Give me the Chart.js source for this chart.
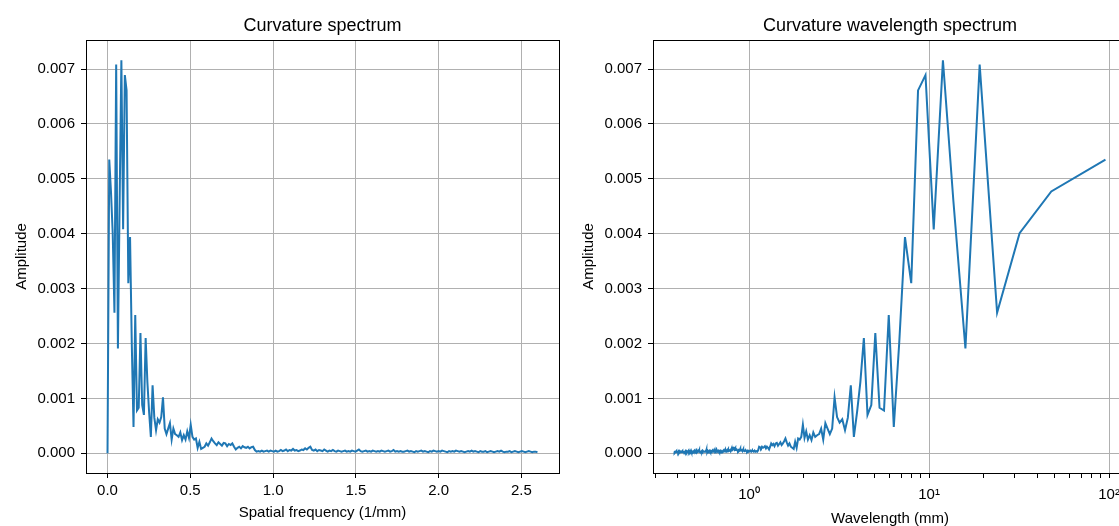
<!DOCTYPE html>
<html>
<head>
<meta charset="utf-8">
<script src="https://cdn.jsdelivr.net/npm/chart.js@4.4.1/dist/chart.umd.min.js"></script>
<style>
  body { margin: 0; width: 1119px; height: 526px; overflow: hidden; background: #fff; position: relative; }
  canvas { position: absolute; top: 0; }
  #spec { left: 0; }
  #wave { left: 560px; }
</style>
</head>
<body>
<canvas id="spec" width="560" height="526"></canvas>
<canvas id="wave" width="580" height="540"></canvas>
<script>
// record length in mm (frequency bin k sits at k / recordLength)
const recordLength = 95.5;

// amplitude per bin, in units of 1e-3
const amplitudeMilli = [
  0, 5.35, 4.77, 4.01, 2.56, 7.08, 1.91, 4.6, 7.16, 4.08,
  6.89, 6.61, 3.10, 3.94, 2.0, 0.48, 2.52, 0.78, 0.83, 2.19,
  0.88, 0.70, 2.10, 1.30, 0.75, 0.30, 1.24, 0.65, 0.42, 0.62,
  0.56, 0.66, 1.02, 0.45, 0.35, 0.45, 0.55, 0.25, 0.45, 0.35,
  0.33, 0.30, 0.38, 0.24, 0.33, 0.25, 0.40, 0.28, 0.52, 0.30,
  0.25, 0.27, 0.10, 0.21, 0.08, 0.10, 0.12, 0.18, 0.14, 0.20,
  0.27, 0.22, 0.18, 0.15, 0.20, 0.17, 0.14, 0.19, 0.18, 0.13,
  0.17, 0.15, 0.18, 0.12, 0.07, 0.10, 0.12, 0.09, 0.13, 0.11,
  0.10, 0.12, 0.09, 0.11, 0.12, 0.06, 0.03, 0.04, 0.03, 0.05,
  0.03, 0.04, 0.05, 0.03, 0.05, 0.04, 0.03, 0.05, 0.03, 0.04,
  0.06, 0.04, 0.05, 0.07, 0.04, 0.06, 0.05, 0.08, 0.05, 0.06, 0.04,
  0.05, 0.07, 0.06, 0.09, 0.07, 0.10, 0.12, 0.06, 0.05, 0.07,
  0.04, 0.06, 0.05, 0.04, 0.07, 0.05, 0.03, 0.05, 0.04, 0.06,
  0.04, 0.03, 0.05, 0.04, 0.03, 0.04, 0.05, 0.03, 0.04, 0.03,
  0.05, 0.04, 0.03, 0.05, 0.07, 0.04, 0.03, 0.04, 0.05, 0.03,
  0.04, 0.03, 0.05, 0.04, 0.03, 0.04, 0.03, 0.05, 0.04, 0.03,
  0.04, 0.05, 0.03, 0.04, 0.06, 0.03, 0.04, 0.03, 0.04, 0.03,
  0.03, 0.04, 0.05, 0.03, 0.04, 0.03, 0.02, 0.04, 0.03, 0.04,
  0.05, 0.03, 0.04, 0.03, 0.02, 0.04, 0.03, 0.05, 0.04, 0.03,
  0.04, 0.03, 0.05, 0.04, 0.03, 0.02, 0.04, 0.03, 0.04, 0.03,
  0.05, 0.04, 0.03, 0.04, 0.03, 0.02, 0.03, 0.04, 0.03, 0.05,
  0.03, 0.04, 0.03, 0.02, 0.04, 0.03, 0.03, 0.04, 0.02, 0.03,
  0.04, 0.03, 0.02, 0.03, 0.04, 0.03, 0.05, 0.03, 0.02, 0.03,
  0.03, 0.04, 0.02, 0.03, 0.04, 0.03, 0.02, 0.03, 0.04, 0.03,
  0.02, 0.03, 0.04, 0.03, 0.02, 0.03, 0.03, 0.02
];

const yTicks = [0, 0.001, 0.002, 0.003, 0.004, 0.005, 0.006, 0.007];
const freqTicks = [0, 0.5, 1.0, 1.5, 2.0, 2.5];
const waveMajor = [1, 10, 100];
const waveTicks = [0.3, 0.4, 0.5, 0.6, 0.7, 0.8, 0.9, 1, 2, 3, 4, 5, 6, 7, 8, 9,
                   10, 20, 30, 40, 50, 60, 70, 80, 90, 100];
const supers = { 1: '10\u2070', 10: '10\u00b9', 100: '10\u00b2' };

const lineColor = '#1f77b4';
const gridColor = '#b0b0b0';
const fontFamily = "'Liberation Sans', Arial, sans-serif";

Chart.defaults.font.family = fontFamily;
Chart.defaults.font.size = 15;
Chart.defaults.color = '#000';

let specPts = [];
let wavePts = [];
for (let k = 0; k < amplitudeMilli.length; k++) {
  let f = k / recordLength;
  let a = amplitudeMilli[k] / 1000;
  specPts.push({ x: f, y: a });
  if (k > 0) wavePts.push({ x: 1 / f, y: a });
}

// black box round the plot area, title centred over it
const frame = {
  id: 'frame',
  afterDraw(c, args, opts) {
    const a = c.chartArea, ctx = c.ctx;
    ctx.save();
    ctx.strokeStyle = '#000';
    ctx.lineWidth = 1;
    ctx.strokeRect(Math.round(a.left) + 0.5, Math.round(a.top) + 0.5,
                   Math.round(a.right - a.left), Math.round(a.bottom - a.top));
    ctx.font = '18px ' + fontFamily;
    ctx.fillStyle = '#000';
    ctx.textAlign = 'center';
    ctx.textBaseline = 'middle';
    ctx.fillText(opts.text, (a.left + a.right) / 2, 26);
    ctx.restore();
  }
};

function yScale(width, titlePad) {
  return {
    min: -0.0003585,
    max: 0.0075285,
    afterFit: s => { s.width = width; },
    afterBuildTicks: s => { s.ticks = yTicks.map(v => ({ value: v })); },
    ticks: { callback: v => v.toFixed(3), padding: 6 },
    grid: { color: gridColor, lineWidth: 1, tickColor: '#000', tickLength: 5 },
    border: { display: false },
    title: { display: true, text: 'Amplitude', padding: { top: titlePad, bottom: 0 } }
  };
}

new Chart(document.getElementById('spec'), {
  type: 'line',
  data: { datasets: [{ data: specPts, borderColor: lineColor, borderWidth: 2, pointRadius: 0, tension: 0 }] },
  options: {
    responsive: false,
    animation: false,
    events: [],
    layout: { padding: { top: 40, right: 1, left: 0, bottom: 0 } },
    plugins: { legend: { display: false }, tooltip: { enabled: false }, frame: { text: 'Curvature spectrum' } },
    scales: {
      x: {
        type: 'linear',
        min: -0.1299,
        max: 2.727,
        afterFit: s => { s.height = 53; },
        afterBuildTicks: s => { s.ticks = freqTicks.map(v => ({ value: v })); },
        ticks: { callback: v => v.toFixed(1), padding: 4, maxRotation: 0, autoSkip: false },
        grid: { color: gridColor, lineWidth: 1, tickColor: '#000', tickLength: 5 },
        border: { display: false },
        title: { display: true, text: 'Spatial frequency (1/mm)', padding: { top: 0, bottom: 4 } }
      },
      y: yScale(86, 13)
    }
  },
  plugins: [frame]
});

new Chart(document.getElementById('wave'), {
  type: 'line',
  data: { datasets: [{ data: wavePts, borderColor: lineColor, borderWidth: 2, pointRadius: 0, tension: 0 }] },
  options: {
    responsive: false,
    animation: false,
    events: [],
    layout: { padding: { top: 40, right: 13, left: 0, bottom: 0 } },
    plugins: { legend: { display: false }, tooltip: { enabled: false }, frame: { text: 'Curvature wavelength spectrum' } },
    scales: {
      x: {
        type: 'logarithmic',
        min: 0.2924,
        max: 125.8,
        afterFit: s => { s.height = 67; },
        afterBuildTicks: s => { s.ticks = waveTicks.map(v => ({ value: v, major: waveMajor.includes(v) })); },
        ticks: { callback: v => supers[v] || '', padding: 8, maxRotation: 0, autoSkip: false },
        grid: {
          color: ctx => (ctx.tick && waveMajor.includes(ctx.tick.value)) ? gridColor : 'rgba(0,0,0,0)',
          lineWidth: 1,
          tickColor: '#000',
          tickLength: 5
        },
        border: { display: false },
        title: { display: true, text: 'Wavelength (mm)', padding: { top: 0, bottom: 12 } }
      },
      y: yScale(93, 20)
    }
  },
  plugins: [frame]
});
</script>
</body>
</html>
